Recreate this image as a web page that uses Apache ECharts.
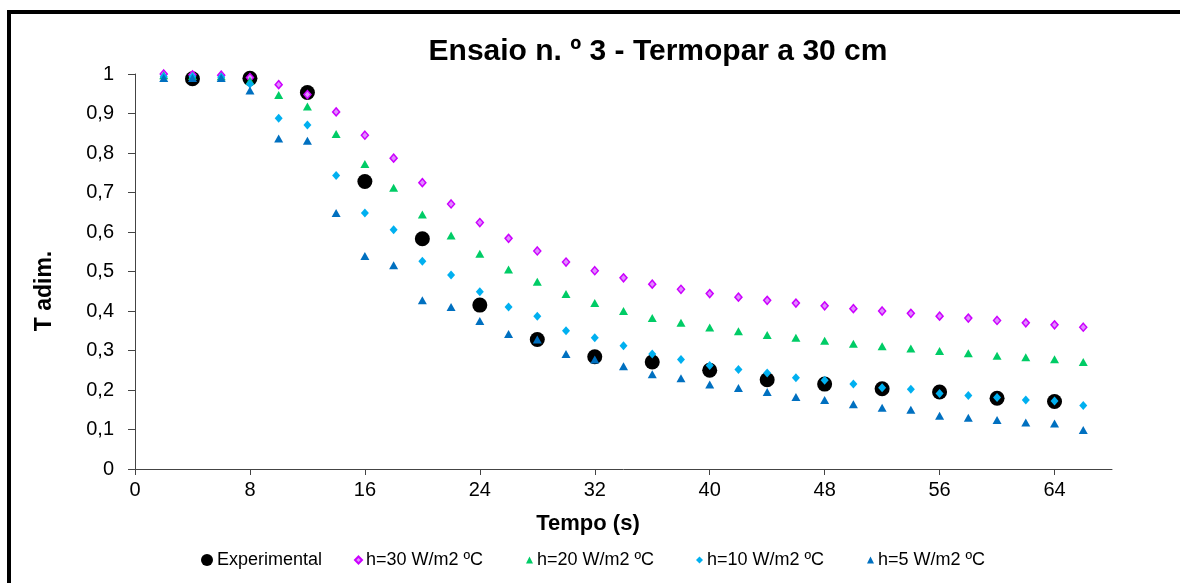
<!DOCTYPE html>
<html>
<head>
<meta charset="utf-8">
<script src="https://cdn.jsdelivr.net/npm/echarts@6/dist/echarts.min.js"></script>
<style>html,body{margin:0;padding:0;background:#fff}#c{width:1180px;height:583px}</style>
</head>
<body>
<div id="c"></div>
<script>
const titleText = 'Ensaio n. º 3 - Termopar a 30 cm';
const xName = 'Tempo (s)';
const yName = 'T adim.';
const seriesNames = ['Experimental', 'h=30 W/m2 ºC', 'h=20 W/m2 ºC', 'h=10 W/m2 ºC', 'h=5 W/m2 ºC'];
const xTicks = [0, 8, 16, 24, 32, 40, 48, 56, 64];

const tExp = [4, 8, 12, 16, 20, 24, 28, 32, 36, 40, 44, 48, 52, 56, 60, 64];
const experimental = [0.988, 0.989, 0.953, 0.728, 0.583, 0.415, 0.328, 0.284, 0.271, 0.250, 0.226, 0.215, 0.203, 0.195, 0.179, 0.171];

const tSim = [2, 4, 6, 8, 10, 12, 14, 16, 18, 20, 22, 24, 26, 28, 30, 32, 34, 36, 38, 40, 42, 44, 46, 48, 50, 52, 54, 56, 58, 60, 62, 64, 66];
const h30 = [1.0, 0.998, 0.997, 0.991, 0.973, 0.948, 0.904, 0.845, 0.787, 0.725, 0.671, 0.624, 0.584, 0.552, 0.524, 0.502, 0.484, 0.468, 0.455, 0.444, 0.435, 0.427, 0.420, 0.413, 0.406, 0.400, 0.394, 0.387, 0.382, 0.376, 0.370, 0.365, 0.359];
const h20 = [0.997, 0.995, 0.994, 0.983, 0.947, 0.918, 0.848, 0.772, 0.712, 0.644, 0.591, 0.545, 0.505, 0.474, 0.443, 0.420, 0.400, 0.382, 0.370, 0.358, 0.349, 0.339, 0.332, 0.325, 0.317, 0.311, 0.305, 0.299, 0.293, 0.287, 0.283, 0.278, 0.271];
const h10 = [0.993, 0.993, 0.992, 0.975, 0.888, 0.871, 0.743, 0.648, 0.606, 0.526, 0.491, 0.449, 0.410, 0.387, 0.350, 0.332, 0.312, 0.291, 0.277, 0.262, 0.252, 0.243, 0.231, 0.225, 0.215, 0.206, 0.202, 0.191, 0.186, 0.181, 0.175, 0.172, 0.161];
const h5 = [0.990, 0.990, 0.990, 0.958, 0.837, 0.831, 0.648, 0.539, 0.516, 0.427, 0.410, 0.375, 0.342, 0.328, 0.291, 0.277, 0.260, 0.240, 0.230, 0.214, 0.205, 0.195, 0.182, 0.175, 0.164, 0.155, 0.150, 0.135, 0.130, 0.124, 0.118, 0.115, 0.099];

const pair = (xs, ys) => xs.map((x, i) => [x, ys[i]]);
const FONT = 'Liberation Sans, Arial, sans-serif';

const styles = [
  { symbol: 'circle', size: 15, color: '#000000', border: '#000000', bw: 0, legendSize: 12, legendLeft: 201 },
  { symbol: 'diamond', size: [7, 8], color: '#E08CFF', border: '#CC00FF', bw: 1.5, legendSize: 7, legendLeft: 354 },
  { symbol: 'triangle', size: [9, 8], color: '#00CC66', border: '#00CC66', bw: 0, legendSize: 7, legendLeft: 526 },
  { symbol: 'diamond', size: [8, 9], color: '#00B0F0', border: '#00B0F0', bw: 0, legendSize: 7, legendLeft: 696 },
  { symbol: 'triangle', size: [9, 8], color: '#0070C0', border: '#0070C0', bw: 0, legendSize: 7, legendLeft: 867 }
];
const dataSets = [pair(tExp, experimental), pair(tSim, h30), pair(tSim, h20), pair(tSim, h10), pair(tSim, h5)];

const chart = echarts.init(document.getElementById('c'), null, { renderer: 'canvas' });
chart.setOption({
  animation: false,
  backgroundColor: '#ffffff',
  title: {
    text: titleText,
    left: 658,
    textAlign: 'center',
    top: 37,
    padding: 0,
    textStyle: { fontFamily: FONT, fontSize: 30, fontWeight: 'bold', color: '#000' }
  },
  legend: seriesNames.map((n, i) => ({
    data: [n],
    left: styles[i].legendLeft,
    top: 551,
    padding: 0,
    itemWidth: styles[i].legendSize,
    itemHeight: styles[i].legendSize,
    selectedMode: false,
    itemGap: 0,
    textStyle: { fontFamily: FONT, fontSize: 18, color: '#000', padding: [0, 0, 0, -1] }
  })),
  grid: { left: 135, right: 68, top: 74, bottom: 114, containLabel: false },
  xAxis: {
    type: 'value', min: 0, max: 68, interval: 8,
    splitLine: { show: false },
    axisLine: { lineStyle: { color: '#444', width: 1 } },
    axisTick: { show: true, length: 6, customValues: xTicks, lineStyle: { color: '#444' } },
    axisLabel: { customValues: xTicks, margin: 11, fontFamily: FONT, fontSize: 20, color: '#000' }
  },
  yAxis: {
    type: 'value', min: 0, max: 1, interval: 0.1,
    splitLine: { show: false },
    axisLine: { show: true, lineStyle: { color: '#444', width: 1 } },
    axisTick: { show: true, length: 7, lineStyle: { color: '#444' } },
    axisLabel: {
      margin: 21, fontFamily: FONT, fontSize: 20, color: '#000',
      formatter: v => (Math.round(v * 10) / 10).toString().replace('.', ',')
    }
  },
  graphic: [
    { type: 'rect', shape: { x: 9, y: 12, width: 1300, height: 700 }, style: { fill: 'none', stroke: '#000', lineWidth: 4 }, silent: true },
    { type: 'text', x: 588, y: 524, style: { text: xName, fontFamily: FONT, fontSize: 22, fontWeight: 'bold', fill: '#000', textAlign: 'center', textVerticalAlign: 'middle' } },
    { type: 'text', x: 45, y: 291, rotation: Math.PI / 2, style: { text: yName, fontFamily: FONT, fontSize: 23, fontWeight: 'bold', fill: '#000', textAlign: 'center', textVerticalAlign: 'middle' } }
  ],
  series: seriesNames.map((n, i) => ({
    name: n,
    type: 'scatter',
    data: dataSets[i],
    symbol: styles[i].symbol,
    symbolSize: styles[i].size,
    itemStyle: { color: styles[i].color, borderColor: styles[i].border, borderWidth: styles[i].bw, opacity: 1 },
    z: 2 + i
  }))
});
</script>
</body>
</html>
